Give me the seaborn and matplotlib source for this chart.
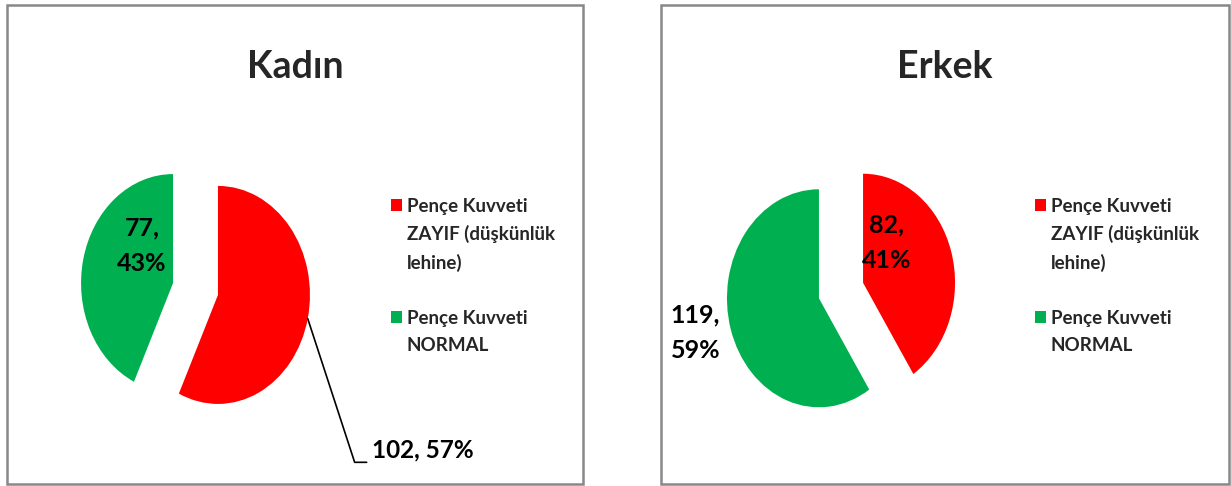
import matplotlib
matplotlib.use("Agg")
import numpy as np
import matplotlib.pyplot as plt
from matplotlib.patches import Rectangle
from matplotlib.lines import Line2D
import seaborn as sns

# data
groups = ["Kadın", "Erkek"]
categories = ["Pençe Kuvveti\nZAYIF (düşkünlük\nlehine)", "Pençe Kuvveti\nNORMAL"]
kadin_counts = [102, 77]
erkek_counts = [82, 119]
kadin_pct = [57, 43]
erkek_pct = [41, 59]
colors = ["#FF0000", "#00B050"]

sns.set_theme(style="white")
plt.rcParams["font.family"] = ["Lato", "DejaVu Sans"]
plt.rcParams["font.weight"] = "bold"

W, H = 1231, 486
fig = plt.figure(figsize=(W / 100, H / 100), dpi=100)


def px_box(x0, y0, x1, y1):
    # pixel box (top-left origin) -> figure fraction rect
    return [x0 / W, 1 - y1 / H, (x1 - x0) / W, (y1 - y0) / H]


# panel frames
for x0, x1 in [(7, 583), (661, 1229)]:
    l, b, w, h = px_box(x0, 5, x1, 484)
    fig.add_artist(Rectangle((l, b), w, h, transform=fig.transFigure,
                             fill=False, edgecolor="#888888", linewidth=1.8))

# pie axes: 1 data unit = 92 px wide, 109 px tall
rx, ry, lim = 92, 109, 1.6
centers = [(195.5, 289), (841, 290.5)]
panels = []
for cx, cy in centers:
    hw, hh = lim * rx, lim * ry
    ax = fig.add_axes(px_box(cx - hw, cy - hh, cx + hw, cy + hh))
    panels.append(ax)

data = [(kadin_counts, kadin_pct), (erkek_counts, erkek_pct)]
wedge_sets = []
for ax, (counts, pct) in zip(panels, data):
    wedges, _ = ax.pie(counts, colors=colors, startangle=90, counterclock=False,
                       explode=[0.25, 0.25], radius=1,
                       wedgeprops=dict(linewidth=0))
    ax.set_aspect("auto")
    ax.set_xlim(-lim, lim)
    ax.set_ylim(-lim, lim)
    ax.axis("off")
    wedge_sets.append(wedges)

lbl_kw = dict(fontsize=18, fontweight="bold", color="black", linespacing=1.65)

# Kadın labels
axk = panels[0]
axk.text(-0.58, 0.40, f"{kadin_counts[1]},\n{kadin_pct[1]}%", ha="center", va="center", **lbl_kw)
w0 = wedge_sets[0][0]
th = np.deg2rad((w0.theta1 + w0.theta2) / 2)
sx, sy = w0.center[0] + np.cos(th), w0.center[1] + np.sin(th)
axk.add_line(Line2D([sx, 1.73, 1.86], [sy, -1.59, -1.59], color="black", linewidth=1.2,
                    clip_on=False))
axk.text(1.92, -1.48, f"{kadin_counts[0]}, {kadin_pct[0]}%", ha="left", va="center",
         fontsize=17.5, fontweight="bold", color="black")

# Erkek labels
axe = panels[1]
axe.text(0.5, 0.436, f"{erkek_counts[0]},\n{erkek_pct[0]}%", ha="center", va="center", **lbl_kw)
axe.text(-1.58, -0.39, f"{erkek_counts[1]},\n{erkek_pct[1]}%", ha="center", va="center", **lbl_kw)

# titles
for name, cx in zip(groups, [295, 945]):
    fig.text(cx / W, 1 - 78 / H, name, ha="center", va="baseline",
             fontsize=27, fontweight="bold")

# legends
for sq_x, tx_x in [(391, 407), (1035, 1051)]:
    for (top, cat, col) in zip([199, 311], categories, colors):
        l, b, w, h = px_box(sq_x, top, sq_x + 11, top + 12)
        fig.add_artist(Rectangle((l, b), w, h, transform=fig.transFigure,
                                 facecolor=col, edgecolor="none"))
        fig.text(tx_x / W, 1 - (top - 1) / H, cat, ha="left", va="top",
                 fontsize=13.5, fontweight="bold", linespacing=1.68)

fig.savefig("out.png", dpi=100, facecolor="white")
